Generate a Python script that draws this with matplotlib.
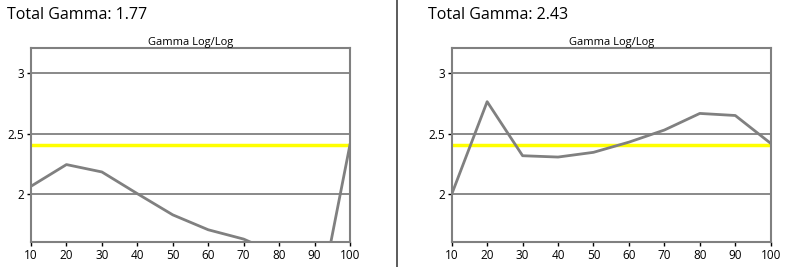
import matplotlib
matplotlib.use("Agg")
import matplotlib.pyplot as plt

plt.rcParams['font.family'] = ['Open Sans', 'DejaVu Sans']

x = [10, 20, 30, 40, 50, 60, 70, 80, 90, 100]
gamma_left = [2.066, 2.245, 2.184, 2.005, 1.83, 1.707, 1.63, 1.50, 0.92, 2.41]
gamma_right = [2.0, 2.764, 2.318, 2.307, 2.346, 2.43, 2.53, 2.667, 2.65, 2.42]
target = 2.41
totals = ["Total Gamma: 1.77", "Total Gamma: 2.43"]
yticks = [2, 2.5, 3]
yticklabels = ["2", "2.5", "3"]

fig = plt.figure(figsize=(7.92, 2.67), dpi=100)

lefts = [31 / 792, 451.7 / 792]
titles_x = [7 / 792, 428 / 792]
series = [gamma_left, gamma_right]

for i in range(2):
    ax = fig.add_axes([lefts[i], 25 / 267, 319 / 792, 194 / 267])
    for yv in yticks:
        ax.axhline(yv, color='#808080', lw=1.3, zorder=1)
    ax.axhline(target, color='#ffff00', lw=2.5, zorder=2)
    ax.plot(x, series[i], color='#808080', lw=2, zorder=3)
    ax.set_xlim(10, 100)
    ax.set_ylim(1.606, 3.207)
    ax.set_xticks(x)
    ax.set_yticks(yticks)
    ax.set_yticklabels(yticklabels)
    for s in ax.spines.values():
        s.set_color('#808080')
        s.set_linewidth(1.5)
    ax.tick_params(axis='both', labelsize=8.5, length=3, width=1, color='black', pad=2)
    ax.set_title("Gamma Log/Log", fontsize=8, pad=2)
    fig.text(titles_x[i], 1 - 15 / 267, totals[i], fontsize=11.5, va='center', ha='left')

fig.add_artist(plt.Line2D([397 / 792, 397 / 792], [0, 1], color='#404040', lw=1.2))

fig.savefig("out.png", dpi=100)
